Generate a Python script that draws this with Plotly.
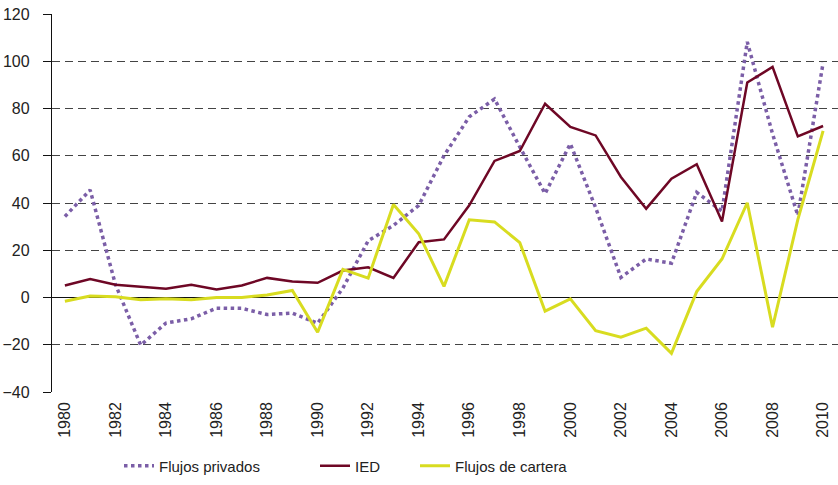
import plotly.graph_objects as go

years = list(range(1980, 2011))

flujos_privados = [34.3, 45.5, 5.5, -20.2, -10.8, -9.0, -4.5, -4.6, -7.2, -6.6,
                   -10.9, 4.0, 24.0, 30.5, 39.0, 60.0, 76.5, 84.0, 63.7, 44.0,
                   65.1, 38.0, 8.5, 16.3, 14.5, 44.5, 36.5, 108.2, 69.3, 34.7,
                   99.3]

ied = [5.1, 7.8, 5.4, 4.4, 3.7, 5.4, 3.4, 5.1, 8.3, 6.8,
       6.2, 11.4, 12.8, 8.3, 23.4, 24.6, 39.0, 57.8, 62.0, 82.0,
       72.2, 68.6, 51.0, 37.6, 50.3, 56.4, 32.2, 91.0, 97.6, 68.2,
       72.6]

flujos_cartera = [-1.6, 0.6, 0.3, -1.0, -0.5, -1.0, 0.0, 0.0, 1.1, 3.0,
                  -14.7, 11.9, 8.2, 39.4, 27.0, 4.7, 32.9, 32.0, 23.2, -5.8,
                  -0.6, -14.0, -16.8, -13.0, -23.6, 2.5, 16.3, 40.1, -12.6, 33.0,
                  70.5]

y_ticks = [-40, -20, 0, 20, 40, 60, 80, 100, 120]
x_ticks = list(range(1980, 2011, 2))

series_names = ["Flujos privados", "IED", "Flujos de cartera"]

FONT = "Liberation Sans, Arial, sans-serif"
PLOT_L, PLOT_R = 52, 838
PLOT_W = PLOT_R - PLOT_L

def lx(px):
    return (px - PLOT_L) / PLOT_W

fig = go.Figure()
fig.add_trace(go.Scatter(
    x=years, y=flujos_privados, mode="lines", name=series_names[0],
    line=dict(color="#7B5EA7", width=3.5, dash="dot"), legend="legend"))
fig.add_trace(go.Scatter(
    x=years, y=ied, mode="lines", name=series_names[1],
    line=dict(color="#6E0725", width=2.5), legend="legend2"))
fig.add_trace(go.Scatter(
    x=years, y=flujos_cartera, mode="lines", name=series_names[2],
    line=dict(color="#D8DC20", width=3), legend="legend3"))

leg_common = dict(orientation="h", yanchor="middle", xanchor="left",
                  y=-0.196, bgcolor="rgba(0,0,0,0)", borderwidth=0,
                  font=dict(family=FONT, size=15, color="#222"))

fig.update_layout(
    width=838, height=485,
    margin=dict(l=PLOT_L, r=0, t=14, b=93, autoexpand=False),
    paper_bgcolor="white", plot_bgcolor="white",
    font=dict(family=FONT, size=16, color="#222"),
    showlegend=True,
    legend=dict(x=lx(119), **leg_common),
    legend2=dict(x=lx(315), **leg_common),
    legend3=dict(x=lx(415), **leg_common),
    xaxis=dict(
        range=[1979.49, 2010.59], tickvals=x_ticks, ticktext=[str(t) for t in x_ticks],
        tickangle=-90, showgrid=False, zeroline=False, showline=False,
        ticks="", ticklabelstandoff=6,
        tickfont=dict(family=FONT, size=16, color="#222")),
    yaxis=dict(
        range=[-40, 120], tickvals=y_ticks, showgrid=True,
        gridcolor="#444", gridwidth=1, griddash="8px,5px",
        zeroline=True, zerolinecolor="#111", zerolinewidth=1.3,
        showline=True, linecolor="#111", linewidth=1.3,
        ticks="outside", ticklen=8, tickcolor="#111", tickwidth=1.3,
        ticklabelstandoff=10,
        tickfont=dict(family=FONT, size=16, color="#222")),
)

fig.write_html(
    "out.html",
    config={"displayModeBar": False},
    post_script="document.body.style.margin='0';document.body.style.overflow='hidden';")
